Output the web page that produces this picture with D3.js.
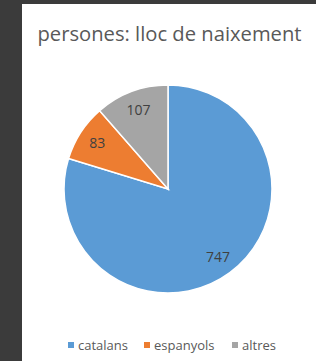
<!DOCTYPE html>
<html><head><meta charset="utf-8">
<script src="https://cdn.jsdelivr.net/npm/d3@7"></script>
<style>html,body{margin:0;padding:0;background:#3b3b3b;}svg{display:block;}</style>
</head><body>
<svg id="c" width="316" height="361"></svg>
<script>
const categories = ["catalans", "espanyols", "altres"];
const values = [747, 83, 107];
const colors = ["#5B9BD5", "#ED7D31", "#A5A5A5"];
const title = "persones: lloc de naixement";

const svg = d3.select("#c");
// background panel
svg.append("rect").attr("x",0).attr("y",0).attr("width",316).attr("height",361).attr("fill","#3b3b3b");
svg.append("rect").attr("x",22).attr("y",4).attr("width",294).attr("height",357).attr("fill","#ffffff");

svg.append("text").attr("x",169.5).attr("y",41).attr("text-anchor","middle")
  .attr("font-family","Open Sans, sans-serif").attr("font-size",20.2).attr("fill","#595959")
  .text(title);

const cx=168, cy=189, r=104;
const data = categories.map((c,i)=>({c, v:values[i], col:colors[i]}));
const pie = d3.pie().sort(null).value(d=>d.v);
const arc = d3.arc().innerRadius(0).outerRadius(r);
const g = svg.append("g").attr("transform",`translate(${cx},${cy})`);
const arcs = pie(data);
g.selectAll("path").data(arcs).join("path").attr("d",arc)
  .attr("fill",d=>d.data.col).attr("stroke","#fff").attr("stroke-width",1.5);
const labelArc = d3.arc().innerRadius(r*0.81).outerRadius(r*0.81);
g.selectAll("text").data(arcs).join("text")
  .attr("transform",d=>`translate(${labelArc.centroid(d)})`)
  .attr("text-anchor","middle").attr("dy","0.36em")
  .attr("font-family","Open Sans, sans-serif").attr("font-size",14).attr("fill","#404040")
  .text(d=>d.data.v);

// legend
const lx=[68,144,232];
const lg = svg.append("g");
data.forEach((d,i)=>{
  lg.append("rect").attr("x",lx[i]).attr("y",342).attr("width",6).attr("height",6).attr("fill",d.col);
  lg.append("text").attr("x",lx[i]+10).attr("y",350).attr("font-family","Open Sans, sans-serif")
    .attr("font-size",13).attr("fill","#595959").text(d.c);
});
</script>
</body></html>
